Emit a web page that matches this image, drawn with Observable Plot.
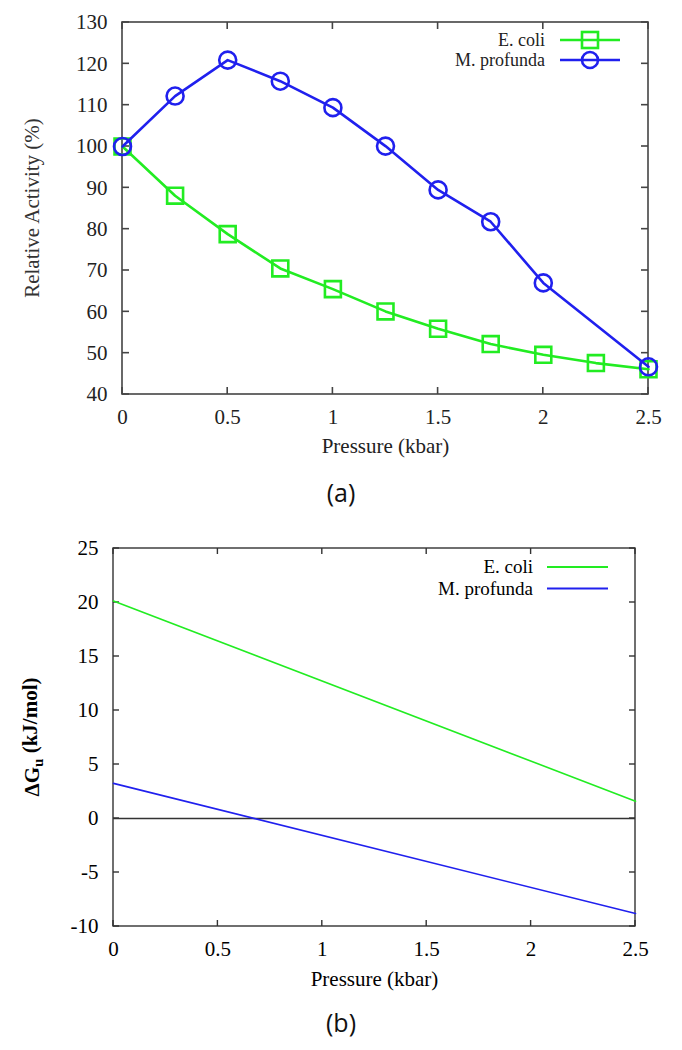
<!DOCTYPE html>
<html><head><meta charset="utf-8">
<script src="https://cdn.jsdelivr.net/npm/d3@7"></script>
<script src="https://cdn.jsdelivr.net/npm/@observablehq/plot@0.6"></script>
<style>
body{margin:0;background:#fff;}
#wrap{position:relative;width:682px;height:1050px;background:#fff;}
.panel{position:absolute;left:0;}
.cap{position:absolute;left:0;width:682px;text-align:center;font-family:"Open Sans","Liberation Sans",sans-serif;font-size:25px;line-height:30px;color:#111;}
</style></head><body>
<div id="wrap"></div>
<script>
// ---- data ----
const seriesNames = ["E. coli", "M. profunda"];
const seriesColors = ["#22ec22", "#2020ee"];
const xTicks = [0, 0.5, 1, 1.5, 2, 2.5];
const yTicksA = [40, 50, 60, 70, 80, 90, 100, 110, 120, 130];
const yTicksB = [-10, -5, 0, 5, 10, 15, 20, 25];

// panel (a): relative activity (%)
const ecoliPressure = [0, 0.25, 0.5, 0.75, 1, 1.25, 1.5, 1.75, 2, 2.25, 2.5];
const ecoliActivity = [100, 88.1, 78.8, 70.5, 65.5, 60.1, 55.9, 52.2, 49.6, 47.6, 46.1];
const profundaPressure = [0, 0.25, 0.5, 0.75, 1, 1.25, 1.5, 1.75, 2, 2.5];
const profundaActivity = [100, 112.2, 120.9, 115.8, 109.4, 100.1, 89.5, 81.8, 67.0, 46.7];

// panel (b): ΔGu (kJ/mol)
const dgPressure = [0, 2.5];
const ecoliDG = [20.15, 1.6];
const profundaDG = [3.25, -8.8];

const tableOf = (xs, ys) => xs.map((p, i) => ({p, v: ys[i]}));
const ecoliA = tableOf(ecoliPressure, ecoliActivity);
const profA = tableOf(profundaPressure, profundaActivity);
const ecoliB = tableOf(dgPressure, ecoliDG);
const profB = tableOf(dgPressure, profundaDG);

const SERIF = '"Liberation Serif", "Times New Roman", serif';

function frameMark(xt, yt, color, len, sw) {
  return (index, scales, values, dims) => {
    const x = scales.x, y = scales.y;
    const l = dims.marginLeft, r = dims.width - dims.marginRight;
    const t = dims.marginTop, b = dims.height - dims.marginBottom;
    const g = d3.create("svg:g").attr("fill", "none").attr("stroke", color).attr("stroke-width", sw);
    g.append("rect").attr("x", l).attr("y", t).attr("width", r - l).attr("height", b - t);
    for (const v of xt) {
      const px = x(v);
      g.append("line").attr("x1", px).attr("x2", px).attr("y1", b).attr("y2", b - len);
      g.append("line").attr("x1", px).attr("x2", px).attr("y1", t).attr("y2", t + len);
    }
    for (const v of yt) {
      const py = y(v);
      g.append("line").attr("x1", l).attr("x2", l + len).attr("y1", py).attr("y2", py);
      g.append("line").attr("x1", r).attr("x2", r - len).attr("y1", py).attr("y2", py);
    }
    return g.node();
  };
}

function yTitle(parts, xpos, weight, fill) {
  return (index, scales, values, dims) => {
    const cy = (dims.marginTop + dims.height - dims.marginBottom) / 2;
    const t = d3.create("svg:text")
      .attr("transform", `translate(${xpos},${cy}) rotate(-90)`)
      .attr("text-anchor", "middle")
      .attr("dy", "0.32em")
      .attr("font-family", SERIF)
      .attr("font-size", 21)
      .attr("font-weight", weight)
      .attr("fill", fill);
    for (const p of parts) {
      const s = t.append("tspan").text(p.text);
      if (p.sub) s.attr("dy", "0.3em").attr("font-size", 15);
      if (p.after) s.attr("dy", "-0.3em");
    }
    return t.node();
  };
}

function legendMark(opt) {
  return (index, scales, values, dims) => {
    const r = dims.width - dims.marginRight, t = dims.marginTop;
    const g = d3.create("svg:g");
    seriesNames.forEach((name, i) => {
      const yy = t + opt.y0 + i * opt.dy;
      g.append("text").attr("x", r + opt.textX).attr("y", yy).attr("dy", "0.32em")
        .attr("text-anchor", "end").attr("font-family", SERIF).attr("font-size", opt.fs)
        .attr("fill", opt.textFill).text(name);
      g.append("line").attr("x1", r + opt.lineX1).attr("x2", r + opt.lineX2)
        .attr("y1", yy).attr("y2", yy).attr("stroke", seriesColors[i]).attr("stroke-width", opt.sw);
      if (opt.markers) {
        const cx = (2 * r + opt.lineX1 + opt.lineX2) / 2;
        if (i === 0) {
          g.append("rect").attr("x", cx - 8).attr("y", yy - 8).attr("width", 16).attr("height", 16)
            .attr("fill", "none").attr("stroke", seriesColors[i]).attr("stroke-width", opt.sw);
        } else {
          g.append("circle").attr("cx", cx).attr("cy", yy).attr("r", 8)
            .attr("fill", "none").attr("stroke", seriesColors[i]).attr("stroke-width", opt.sw);
        }
      }
    });
    return g.node();
  };
}

const wrap = document.getElementById("wrap");

// ---- panel (a) ----
const plotA = Plot.plot({
  width: 682, height: 470,
  marginLeft: 122, marginRight: 34, marginTop: 22, marginBottom: 76,
  style: {fontFamily: SERIF, fontSize: "21px", color: "#222", background: "#fff", overflow: "visible"},
  x: {domain: [0, 2.5]},
  y: {domain: [40, 130]},
  marks: [
    frameMark(xTicks, yTicksA, "#444", 7, 1.6),
    Plot.axisX({ticks: xTicks, tickSize: 0, tickPadding: 15, tickFormat: d => String(d), label: null}),
    Plot.axisY({ticks: yTicksA, tickSize: 0, tickPadding: 15, tickFormat: d => String(d), label: null}),
    Plot.text(["Pressure (kbar)"], {frameAnchor: "bottom", dy: 58, text: d => d, fill: "#222"}),
    yTitle([{text: "Relative Activity (%)"}], 32, "normal", "#333"),
    Plot.line(ecoliA, {x: "p", y: "v", stroke: seriesColors[0], strokeWidth: 2.6}),
    Plot.dot(ecoliA, {x: "p", y: "v", symbol: "square", r: 9, stroke: seriesColors[0], strokeWidth: 2.6, fill: "none"}),
    Plot.line(profA, {x: "p", y: "v", stroke: seriesColors[1], strokeWidth: 2.6}),
    Plot.dot(profA, {x: "p", y: "v", symbol: "circle", r: 8.5, stroke: seriesColors[1], strokeWidth: 2.6, fill: "none"}),
    legendMark({y0: 18, dy: 20, fs: 18, textX: -103, lineX1: -88, lineX2: -28, sw: 2.6, markers: true, textFill: "#222"})
  ]
});
plotA.classList.add("panel");
plotA.style.top = "0px";
wrap.appendChild(plotA);

const capA = document.createElement("div");
capA.className = "cap"; capA.style.top = "477px"; capA.textContent = "(a)";
wrap.appendChild(capA);

// ---- panel (b) ----
const plotB = Plot.plot({
  width: 682, height: 500,
  marginLeft: 113, marginRight: 47, marginTop: 38, marginBottom: 84,
  style: {fontFamily: SERIF, fontSize: "21px", color: "#000", background: "#fff", overflow: "visible"},
  x: {domain: [0, 2.5]},
  y: {domain: [-10, 25]},
  marks: [
    frameMark(xTicks, yTicksB, "#333", 6, 1.4),
    Plot.ruleY([0], {stroke: "#333", strokeWidth: 1.3}),
    Plot.axisX({ticks: xTicks, tickSize: 0, tickPadding: 15, tickFormat: d => String(d), label: null}),
    Plot.axisY({ticks: yTicksB, tickSize: 0, tickPadding: 15, tickFormat: d => String(d), label: null}),
    Plot.text(["Pressure (kbar)"], {frameAnchor: "bottom", dy: 59, text: d => d, fill: "#000"}),
    yTitle([{text: "ΔG"}, {text: "u", sub: true}, {text: " (kJ/mol)", after: true}], 32, "bold", "#000"),
    Plot.line(ecoliB, {x: "p", y: "v", stroke: seriesColors[0], strokeWidth: 1.6}),
    Plot.line(profB, {x: "p", y: "v", stroke: seriesColors[1], strokeWidth: 1.6}),
    legendMark({y0: 19, dy: 21.5, fs: 19, textX: -102, lineX1: -88, lineX2: -27, sw: 1.8, markers: false, textFill: "#000"})
  ]
});
plotB.classList.add("panel");
plotB.style.top = "510px";
wrap.appendChild(plotB);

const capB = document.createElement("div");
capB.className = "cap"; capB.style.top = "1007px"; capB.textContent = "(b)";
wrap.appendChild(capB);
</script>
</body></html>
